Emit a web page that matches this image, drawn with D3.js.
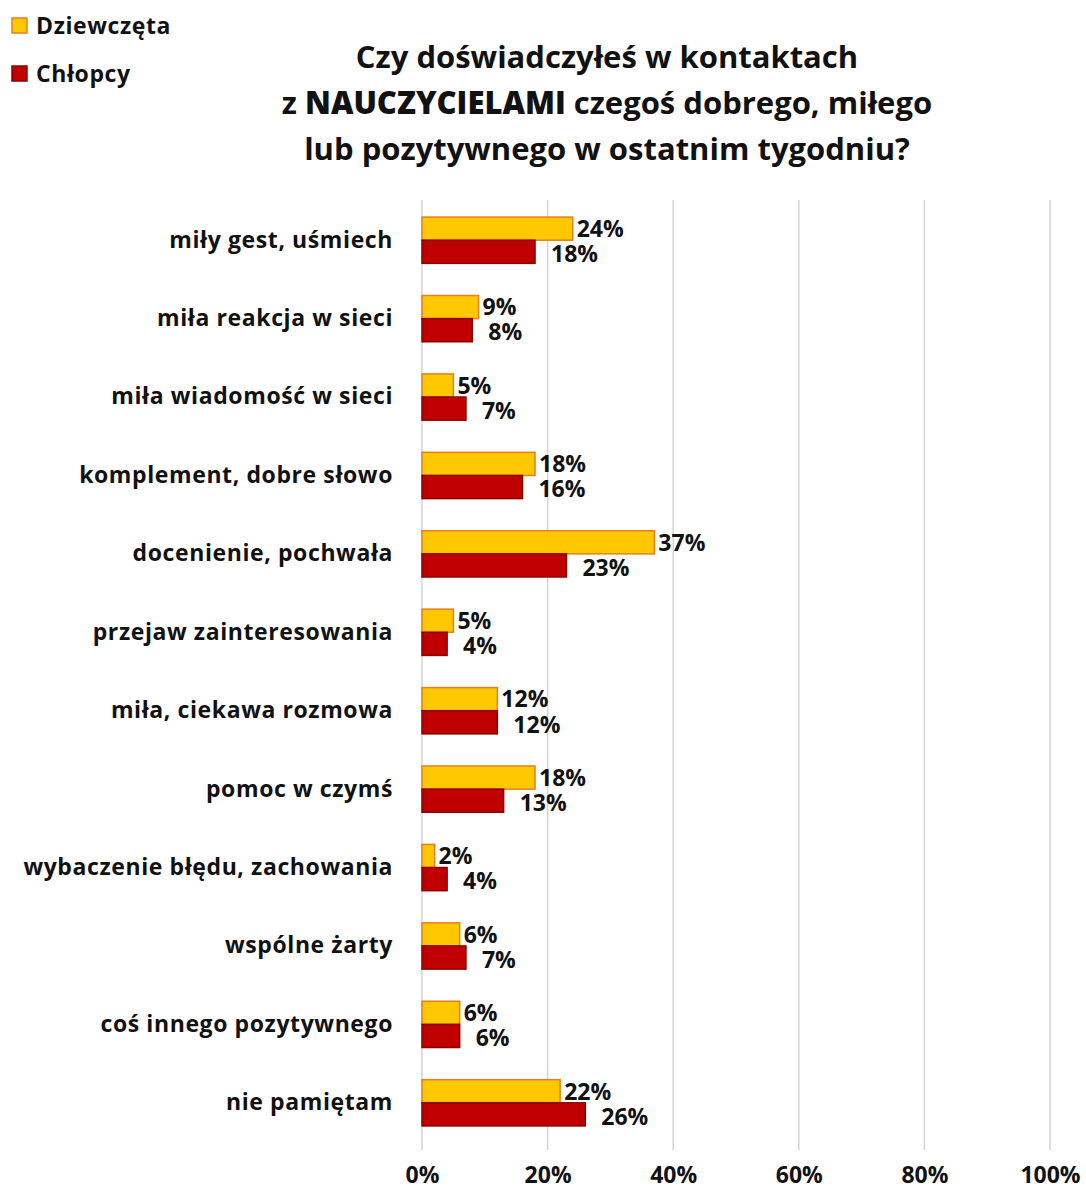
<!DOCTYPE html>
<html>
<head>
<meta charset="utf-8">
<script src="https://cdn.jsdelivr.net/npm/d3@7/dist/d3.min.js"></script>
<style>
  html, body { margin: 0; padding: 0; background: #fff; }
  svg { display: block; font-family: "Open Sans", Lato, sans-serif; }
</style>
</head>
<body>
<svg id="chart" width="1086" height="1192"></svg>
<script>
// Answers, per category, in percent
const categories = [
  "miły gest, uśmiech",
  "miła reakcja w sieci",
  "miła wiadomość w sieci",
  "komplement, dobre słowo",
  "docenienie, pochwała",
  "przejaw zainteresowania",
  "miła, ciekawa rozmowa",
  "pomoc w czymś",
  "wybaczenie błędu, zachowania",
  "wspólne żarty",
  "coś innego pozytywnego",
  "nie pamiętam"
];
const girls = [24, 9, 5, 18, 37, 5, 12, 18, 2, 6, 6, 22];
const boys  = [18, 8, 7, 16, 23, 4, 12, 13, 4, 7, 6, 26];
const seriesNames = ["Dziewczęta", "Chłopcy"];
const xTicks = [0, 20, 40, 60, 80, 100];

const colors = {
  Dziewczęta: { fill: "#FFC800", stroke: "#E87E1C", labelDx: 4 },
  Chłopcy:    { fill: "#C00000", stroke: "#8E0000", labelDx: 16 }
};

const svg = d3.select("#chart");
const margin = { left: 422, right: 36, top: 201, bottom: 50 };
const W = 1086;

const x = d3.scaleLinear().domain([0, 100]).range([margin.left, W - margin.right]);
const y = d3.scaleBand().domain(categories).range([margin.top, 1142]).paddingInner(0.41).paddingOuter(0.205);
const ySub = d3.scaleBand().domain(seriesNames).range([0, y.bandwidth()]);

// Title
const title = svg.append("text")
  .attr("text-anchor", "middle")
  .attr("font-size", 31)
  .attr("fill", "#111");
const tl = [
  [{ t: "Czy doświadczyłeś w kontaktach" }],
  [{ t: "z " }, { t: "NAUCZYCIELAMI", b: true }, { t: " czegoś dobrego, miłego" }],
  [{ t: "lub pozytywnego w ostatnim tygodniu?" }]
];
tl.forEach((parts, i) => {
  const line = title.append("tspan").attr("x", 607).attr("y", 68 + i * 46);
  parts.forEach(p => line.append("tspan").text(p.t).attr("font-weight", p.b ? 800 : 700));
});

// Legend
seriesNames.forEach((s, i) => {
  const g = svg.append("g").attr("transform", `translate(12, ${18 + i * 48})`);
  g.append("rect").attr("width", 15).attr("height", 15)
    .attr("fill", colors[s].fill).attr("stroke", colors[s].stroke).attr("stroke-width", 1.5);
  g.append("text").attr("x", 24).attr("y", 8).attr("dy", "0.36em")
    .attr("font-size", 23).attr("letter-spacing", 0.6)
    .attr("font-weight", 700).attr("fill", "#111").text(s);
});

// Vertical gridlines
svg.append("g").selectAll("line").data(xTicks).join("line")
  .attr("x1", d => x(d)).attr("x2", d => x(d))
  .attr("y1", 200).attr("y2", 1150)
  .attr("stroke", "#d4d4d4").attr("stroke-width", 1.5);

// X axis labels
const xAxis = d3.axisBottom(x).tickValues(xTicks).tickFormat(d => d + "%").tickSize(0).tickPadding(0);
svg.append("g").attr("transform", "translate(0, 1167)").call(xAxis)
  .call(g => g.select(".domain").remove())
  .call(g => g.selectAll("text").attr("font-size", 23).attr("font-weight", 700)
    .attr("fill", "#111").attr("font-family", "'Open Sans', sans-serif"));

// Category labels
const yAxis = d3.axisLeft(y).tickSize(0).tickPadding(29);
svg.append("g").attr("transform", `translate(${margin.left}, 0)`).call(yAxis)
  .call(g => g.select(".domain").remove())
  .call(g => g.selectAll("text").attr("font-size", 23).attr("letter-spacing", 0.6)
    .attr("font-weight", 700).attr("fill", "#111").attr("font-family", "'Open Sans', sans-serif"));

// Bars
const rows = categories.map((c, i) => ({ c, vals: [
  { s: "Dziewczęta", v: girls[i] },
  { s: "Chłopcy", v: boys[i] }
] }));

const groups = svg.append("g").selectAll("g").data(rows).join("g")
  .attr("transform", d => `translate(0, ${y(d.c)})`);

groups.selectAll("rect").data(d => d.vals).join("rect")
  .attr("x", x(0))
  .attr("y", d => ySub(d.s))
  .attr("width", d => x(d.v) - x(0))
  .attr("height", ySub.bandwidth())
  .attr("fill", d => colors[d.s].fill)
  .attr("stroke", d => colors[d.s].stroke)
  .attr("stroke-width", 1.5);

groups.selectAll("text.val").data(d => d.vals).join("text")
  .attr("class", "val")
  .attr("x", d => x(d.v) + colors[d.s].labelDx)
  .attr("y", d => ySub(d.s) + ySub.bandwidth() / 2 + (d.s === "Chłopcy" ? 2 : 0))
  .attr("dy", "0.36em")
  .attr("font-size", 23).attr("font-weight", 700).attr("fill", "#111")
  .text(d => d.v + "%");
</script>
</body>
</html>
